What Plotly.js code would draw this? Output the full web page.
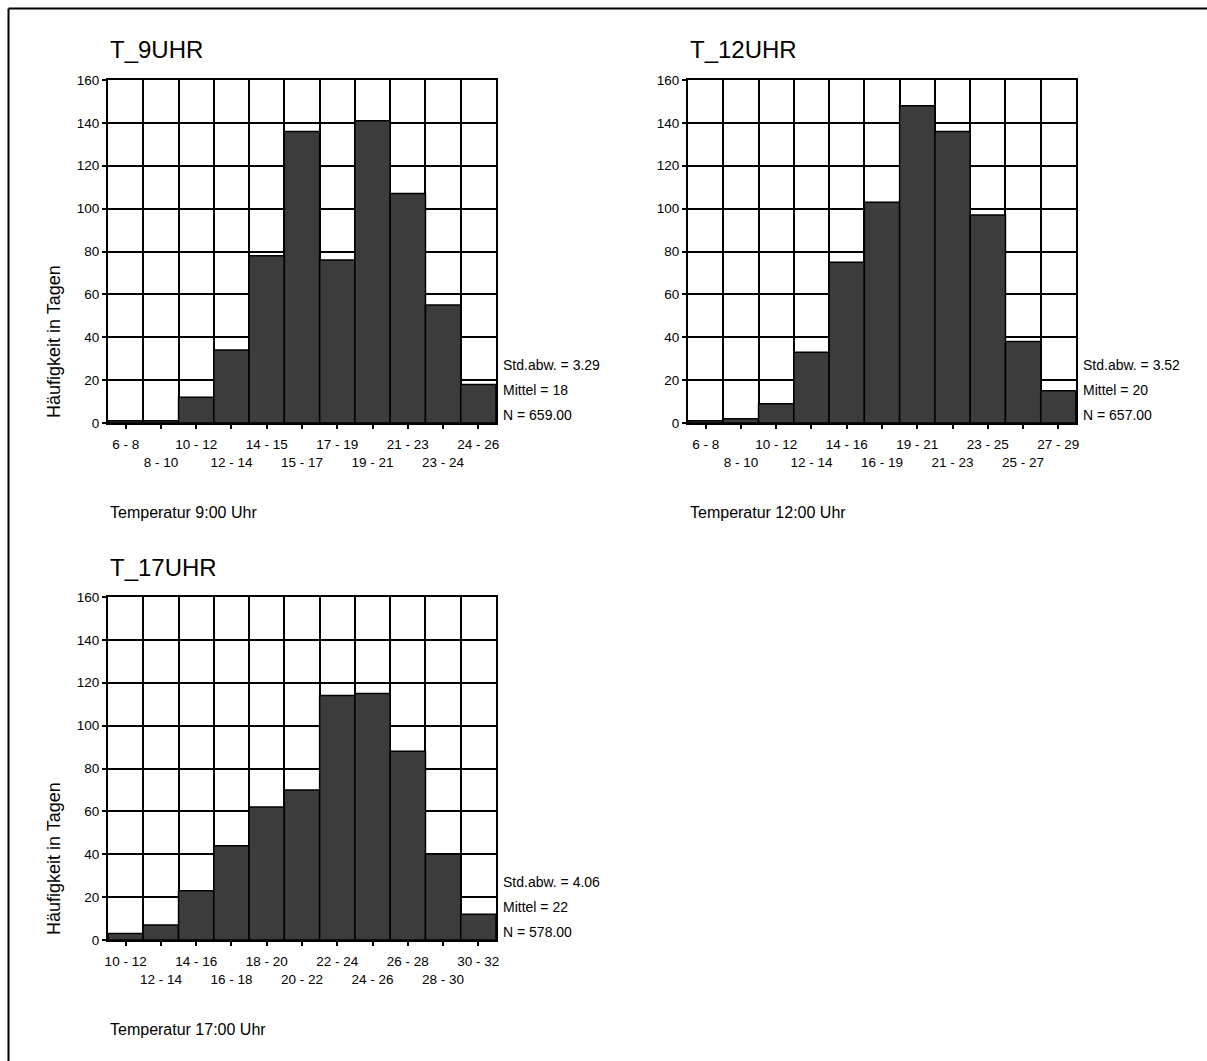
<!DOCTYPE html>
<html>
<head>
<meta charset="utf-8">
<script src="https://cdn.plot.ly/plotly-3.0.1.min.js"></script>
<style>html,body{margin:0;padding:0;background:#fff;}#chart{width:1207px;height:1061px;}</style>
</head>
<body>
<div id="chart"></div>
<script>
// ---- data ----
const cats9 = ['6 - 8','8 - 10','10 - 12','12 - 14','14 - 15','15 - 17','17 - 19','19 - 21','21 - 23','23 - 24','24 - 26'];
const vals9 = [1, 1, 12, 34, 78, 136, 76, 141, 107, 55, 18];
const cats12 = ['6 - 8','8 - 10','10 - 12','12 - 14','14 - 16','16 - 19','19 - 21','21 - 23','23 - 25','25 - 27','27 - 29'];
const vals12 = [1, 2, 9, 33, 75, 103, 148, 136, 97, 38, 15];
const cats17 = ['10 - 12','12 - 14','14 - 16','16 - 18','18 - 20','20 - 22','22 - 24','24 - 26','26 - 28','28 - 30','30 - 32'];
const vals17 = [3, 7, 23, 44, 62, 70, 114, 115, 88, 40, 12];
const yTicks = [0, 20, 40, 60, 80, 100, 120, 140, 160];
const titles = ['T_9UHR', 'T_12UHR', 'T_17UHR'];
const subtitles = ['Temperatur 9:00 Uhr', 'Temperatur 12:00 Uhr', 'Temperatur 17:00 Uhr'];
const stdDev = ['3.29', '3.52', '4.06'];
const means = ['18', '20', '22'];
const counts = ['659.00', '657.00', '578.00'];
const yLabel = 'Häufigkeit in Tagen';

// ---- layout helpers ----
const W = 1207, H = 1061;
const fx = p => p / W;
const fy = p => 1 - p / H;
const FONT = 'Arial, "Liberation Sans", sans-serif';

// plot boxes in pixels: [left, right, top, bottom]
const boxes = [[108, 496, 80, 423], [688, 1076, 80, 423], [108, 496, 597, 940]];
const allCats = [cats9, cats12, cats17];
const allVals = [vals9, vals12, vals17];

function xAxis(cats, box, anchor) {
  const idx = cats.map((_, i) => i);
  return {
    domain: [fx(box[0]), fx(box[1])], anchor: anchor,
    range: [-0.5, cats.length - 0.5],
    tickmode: 'array', tickvals: idx,
    ticktext: cats.map((c, i) => (i % 2 ? '<br>' + c : c)),
    tickangle: 0,
    ticks: 'outside', ticklen: 4, tickwidth: 2, tickcolor: 'black',
    ticklabelstandoff: 4,
    tickfont: {family: FONT, size: 13.5, color: '#000'},
    showgrid: false, zeroline: false,
    showline: true, linecolor: 'black', linewidth: 2, mirror: true,
    minor: {tickmode: 'array', tickvals: idx.slice(1).map(i => i - 0.5),
            showgrid: true, gridcolor: 'black', gridwidth: 2, ticks: ''},
    fixedrange: true
  };
}
function yAxis(box, anchor) {
  return {
    domain: [fy(box[3]), fy(box[2])], anchor: anchor,
    range: [0, 160], tickmode: 'array', tickvals: yTicks,
    ticks: 'outside', ticklen: 4, tickwidth: 2, tickcolor: 'black',
    tickfont: {family: FONT, size: 13.5, color: '#000'},
    showgrid: true, gridcolor: 'black', gridwidth: 2, zeroline: false,
    showline: true, linecolor: 'black', linewidth: 2, mirror: true,
    fixedrange: true
  };
}

const traces = allVals.map((vals, k) => ({
  type: 'bar',
  x: allCats[k].map((_, i) => i),
  y: vals,
  width: 1,
  xaxis: 'x' + (k ? k + 1 : ''),
  yaxis: 'y' + (k ? k + 1 : ''),
  marker: {color: '#3c3c3c', line: {color: '#000', width: 1.5}},
  hoverinfo: 'y',
  showlegend: false
}));

const annotations = [];
boxes.forEach((b, k) => {
  annotations.push({text: titles[k], xref: 'paper', yref: 'paper', x: fx(b[0]), y: fy(b[2] - 30),
    xanchor: 'left', yanchor: 'middle', showarrow: false, font: {family: FONT, size: 24, color: '#000'}});
  annotations.push({text: subtitles[k], xref: 'paper', yref: 'paper', x: fx(b[0]), y: fy(b[3] + 89),
    xanchor: 'left', yanchor: 'middle', showarrow: false, font: {family: FONT, size: 16, color: '#000'}});
  const st = ['Std.abw. = ' + stdDev[k], 'Mittel = ' + means[k], 'N = ' + counts[k]];
  const offs = [58, 33, 8];
  st.forEach((t, j) => annotations.push({text: t, xref: 'paper', yref: 'paper', x: fx(b[1] + 5), y: fy(b[3] - offs[j]),
    xanchor: 'left', yanchor: 'middle', showarrow: false, font: {family: FONT, size: 14, color: '#000'}}));
  if (k !== 1) {
    annotations.push({text: yLabel, xref: 'paper', yref: 'paper', x: fx(54), y: fy(b[3] - 81),
      xanchor: 'center', yanchor: 'middle', textangle: -90, showarrow: false,
      font: {family: FONT, size: 18, color: '#000'}});
  }
});

const layout = {
  width: W, height: H,
  margin: {l: 0, r: 0, t: 0, b: 0, pad: 0},
  paper_bgcolor: '#fff', plot_bgcolor: '#fff',
  bargap: 0, showlegend: false,
  xaxis: xAxis(cats9, boxes[0], 'y'),
  yaxis: yAxis(boxes[0], 'x'),
  xaxis2: xAxis(cats12, boxes[1], 'y2'),
  yaxis2: yAxis(boxes[1], 'x2'),
  xaxis3: xAxis(cats17, boxes[2], 'y3'),
  yaxis3: yAxis(boxes[2], 'x3'),
  annotations: annotations,
  shapes: [
    {type: 'line', xref: 'paper', yref: 'paper', x0: fx(8.5), x1: fx(8.5), y0: 0, y1: fy(8.5), line: {color: '#000', width: 2}},
    {type: 'line', xref: 'paper', yref: 'paper', x0: fx(8.5), x1: 1, y0: fy(8.5), y1: fy(8.5), line: {color: '#000', width: 2}}
  ]
};

Plotly.newPlot('chart', traces, layout, {displayModeBar: false, staticPlot: true});
</script>
</body>
</html>
